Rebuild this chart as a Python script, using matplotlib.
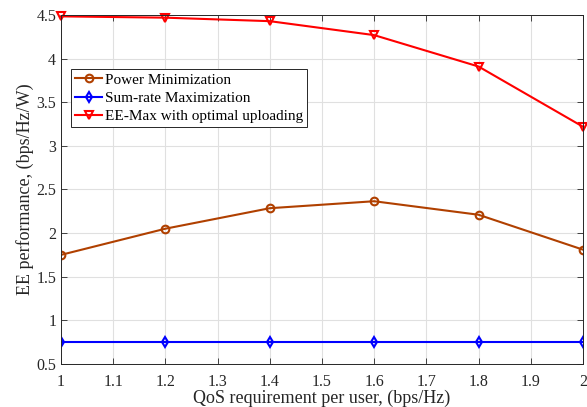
import numpy as np
import matplotlib
matplotlib.use('Agg')
import matplotlib.pyplot as plt

plt.rcParams['font.family'] = ['Liberation Serif', 'DejaVu Serif']

# Data
qos = [1.0, 1.2, 1.4, 1.6, 1.8, 2.0]
power_min = [1.75, 2.05, 2.285, 2.365, 2.21, 1.81]
sum_rate = [0.75, 0.75, 0.75, 0.75, 0.75, 0.75]
ee_max = [4.485, 4.47, 4.43, 4.27, 3.91, 3.22]

fig = plt.figure(figsize=(5.87, 4.07), dpi=100)
ax = fig.add_axes([0.104, 0.106, 0.889, 0.857])

ax.plot(qos, power_min, '-o', color='#B04000', linewidth=1.5, markersize=5.5,
        markerfacecolor='none', markeredgewidth=1.5, label='Power Minimization')
ax.plot(qos, sum_rate, '-d', color='#0000FF', linewidth=1.5, markersize=5.5,
        markerfacecolor='none', markeredgewidth=1.5, label='Sum-rate Maximization')
ax.plot(qos, ee_max, '-v', color='#FF0000', linewidth=1.5, markersize=6,
        markerfacecolor='none', markeredgewidth=1.5, label='EE-Max with optimal uploading',
        clip_on=False)

ax.set_xlim(1, 2)
ax.set_ylim(0.5, 4.5)
ax.set_xticks(np.arange(1, 2.01, 0.1))
ax.set_xticklabels(['1', '1.1', '1.2', '1.3', '1.4', '1.5', '1.6', '1.7', '1.8', '1.9', '2'])
ax.set_yticks(np.arange(0.5, 4.51, 0.5))
ax.set_yticklabels(['0.5', '1', '1.5', '2', '2.5', '3', '3.5', '4', '4.5'])
ax.grid(True, color='#E0E0E0', linewidth=0.8)
ax.set_axisbelow(True)
ax.tick_params(direction='in', top=True, right=True, labelsize=11.5, colors='#262626',
               length=4, width=0.6)
ax.tick_params(axis='x', pad=7)
for s in ax.spines.values():
    s.set_color('#262626')
    s.set_linewidth(0.7)

ax.set_xlabel('QoS requirement per user, (bps/Hz)', fontsize=13, color='#262626', labelpad=0)
ax.set_ylabel('EE performance, (bps/Hz/W)', fontsize=13, color='#262626', labelpad=2)

leg = ax.legend(loc='upper left', bbox_to_anchor=(0.019, 0.845), borderaxespad=0,
                fontsize=11, fancybox=False, framealpha=1, edgecolor='#262626',
                handlelength=1.8, handletextpad=0.15, borderpad=0.25, labelspacing=0.3)
leg.get_frame().set_linewidth(0.7)

fig.savefig('out.png', dpi=100)
